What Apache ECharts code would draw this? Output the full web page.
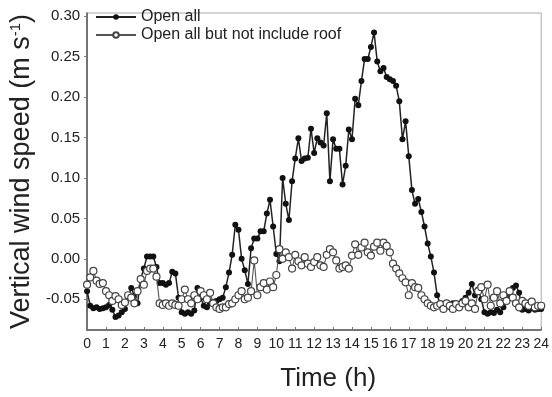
<!DOCTYPE html>
<html>
<head>
<meta charset="utf-8">
<script src="https://cdn.jsdelivr.net/npm/echarts@6/dist/echarts.min.js"></script>
<style>
  html, body { margin: 0; padding: 0; background: #fff; }
  #chart { width: 552px; height: 397px; }
</style>
</head>
<body>
<div id="chart"></div>
<script>
// samples every 10 min, 0 h .. 24 h
const stepHours = 1 / 6;

const openAll = [
  -0.040, -0.058, -0.061, -0.060, -0.062, -0.061,
  -0.060, -0.057, -0.063, -0.072, -0.070, -0.066,
  -0.062, -0.048, -0.036, -0.046, -0.055, -0.025,
  -0.012, 0.003, 0.003, 0.003, -0.010, -0.030,
  -0.030, -0.032, -0.030, -0.016, -0.018, -0.048,
  -0.066, -0.068, -0.066, -0.068, -0.064, -0.036,
  -0.048, -0.058, -0.060, -0.055, -0.053, -0.052,
  -0.050, -0.048, -0.035, -0.017, 0.005, 0.042,
  0.036, 0.000, -0.014, -0.031, 0.013, 0.025,
  0.025, 0.034, 0.034, 0.056, 0.073, 0.040,
  0.006, -0.003, 0.100, 0.068, 0.048, 0.096,
  0.124, 0.149, 0.121, 0.124, 0.125, 0.161,
  0.131, 0.149, 0.144, 0.140, 0.180, 0.096,
  0.148, 0.136, 0.136, 0.092, 0.115, 0.160,
  0.148, 0.198, 0.190, 0.220, 0.247, 0.247,
  0.262, 0.280, 0.244, 0.232, 0.236, 0.225,
  0.222, 0.220, 0.214, 0.195, 0.148, 0.170,
  0.127, 0.085, 0.068, 0.074, 0.058, 0.040,
  0.019, 0.003, -0.017, -0.045, -0.056, -0.058,
  -0.057, -0.060, -0.055, -0.058, -0.056, -0.052,
  -0.048, -0.042, -0.031, -0.045, -0.038, -0.050,
  -0.066, -0.068, -0.066, -0.067, -0.063, -0.066,
  -0.060, -0.050, -0.044, -0.036, -0.033, -0.042,
  -0.063, -0.062, -0.064, -0.061, -0.063, -0.062,
  -0.062
];

const openNoRoof = [
  -0.032, -0.023, -0.015, -0.027, -0.031, -0.030,
  -0.040, -0.045, -0.052, -0.046, -0.050, -0.057,
  -0.054, -0.045, -0.048, -0.055, -0.040, -0.025,
  -0.032, -0.015, -0.012, -0.012, -0.022, -0.055,
  -0.057, -0.055, -0.058, -0.055, -0.057, -0.058,
  -0.050, -0.038, -0.050, -0.055, -0.045, -0.050,
  -0.040, -0.045, -0.050, -0.042, -0.055, -0.060,
  -0.062, -0.060, -0.060, -0.056, -0.055, -0.050,
  -0.045, -0.040, -0.050, -0.048, -0.040, -0.002,
  -0.045, -0.035, -0.030, -0.038, -0.028, -0.035,
  -0.020, 0.012, 0.000, 0.008, 0.002, -0.012,
  0.005, -0.003, -0.008, 0.002, -0.006, -0.010,
  -0.004, 0.002, -0.008, -0.010, 0.005, 0.012,
  0.008, -0.002, -0.012, -0.010, -0.008, -0.012,
  0.004, 0.018, 0.005, 0.014, 0.020, 0.008,
  0.004, 0.015, 0.020, 0.010, 0.020, 0.016,
  0.008, -0.006, -0.012, -0.018, -0.024, -0.029,
  -0.045, -0.030, -0.035, -0.036, -0.045, -0.050,
  -0.055, -0.058, -0.060, -0.058, -0.056, -0.062,
  -0.055, -0.058, -0.062, -0.056, -0.060, -0.055,
  -0.052, -0.060, -0.055, -0.062, -0.040, -0.035,
  -0.050, -0.032, -0.058, -0.048, -0.040, -0.055,
  -0.045, -0.052, -0.040, -0.048, -0.055, -0.060,
  -0.052, -0.055, -0.058, -0.053, -0.060, -0.058,
  -0.058
];

const yTicks = [-0.05, 0, 0.05, 0.1, 0.15, 0.2, 0.25, 0.3];
const hourTicks = [];
for (let h = 0; h <= 24; h++) hourTicks.push(h);

const toPairs = (arr) => arr.map((v, i) => [i * stepHours, v]);

const chart = echarts.init(document.getElementById('chart'));

chart.setOption({
  animation: false,
  backgroundColor: '#fff',
  textStyle: { fontFamily: 'Liberation Sans, Arial, sans-serif', color: '#222' },
  grid: {
    left: 85, right: 9, top: 13, bottom: 62,
    show: true, borderColor: '#aaa', borderWidth: 1
  },
  legend: {
    orient: 'vertical',
    left: 90, top: 4,
    itemWidth: 40, itemHeight: 7, itemGap: 2,
    textStyle: { fontSize: 16, color: '#222' },
    data: ['Open all', 'Open all but not include roof']
  },
  xAxis: {
    type: 'value',
    min: 0, max: 24, interval: 1,
    name: 'Time (h)',
    nameLocation: 'middle',
    nameGap: 36,
    nameTextStyle: { fontSize: 26, color: '#222', padding: [0, 0, 0, 28] },
    axisLine: { onZero: false, lineStyle: { color: '#555', width: 1.5 } },
    axisTick: { inside: true, length: 3, lineStyle: { color: '#777' } },
    axisLabel: {
      fontSize: 14, color: '#222', margin: 7,
      customValues: hourTicks,
      formatter: (v) => String(v)
    },
    splitLine: { show: false }
  },
  yAxis: {
    type: 'value',
    min: -0.088, max: 0.304,
    name: '{n|Vertical wind speed (m s}{s|-1}{n|)}',
    nameLocation: 'middle',
    nameGap: 46,
    nameTextStyle: {
      color: '#222',
      rich: {
        n: { fontSize: 27, color: '#222' },
        s: { fontSize: 15, color: '#222', verticalAlign: 'top', padding: [0, 0, 12, 0] }
      }
    },
    axisLine: { show: true, onZero: false, lineStyle: { color: '#555', width: 1.5 } },
    axisTick: {
      show: true, length: 3, lineStyle: { color: '#777' },
      customValues: yTicks
    },
    axisLabel: {
      fontSize: 15, color: '#222', margin: 7,
      customValues: yTicks,
      formatter: (v) => v.toFixed(2)
    },
    splitLine: { show: false }
  },
  series: [
    {
      name: 'Open all',
      type: 'line',
      data: toPairs(openAll),
      symbol: 'circle',
      symbolSize: 6,
      itemStyle: { color: '#111' },
      lineStyle: { color: '#222', width: 1.5 },
      z: 2
    },
    {
      name: 'Open all but not include roof',
      type: 'line',
      data: toPairs(openNoRoof),
      symbol: 'circle',
      symbolSize: 7,
      itemStyle: { color: '#fff', borderColor: '#444', borderWidth: 1.2 },
      lineStyle: { color: '#555', width: 1.1 },
      z: 3
    }
  ]
});
</script>
</body>
</html>
